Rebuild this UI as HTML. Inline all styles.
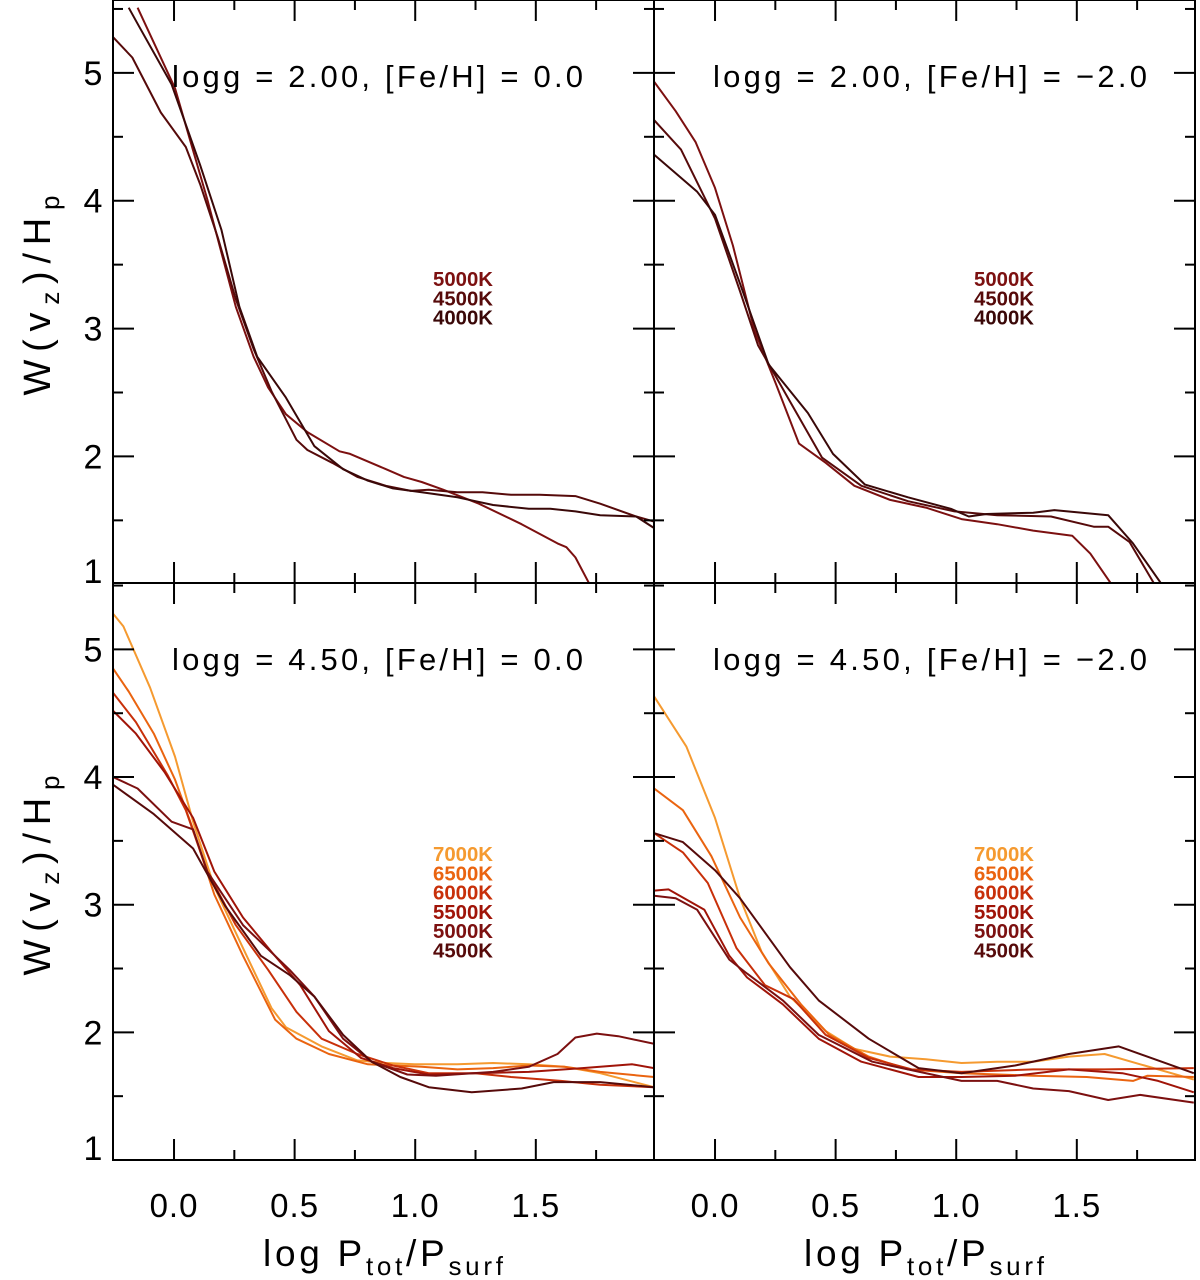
<!DOCTYPE html>
<html><head><meta charset="utf-8"><style>
html,body{margin:0;padding:0;background:#fff;}
svg{display:block;font-family:"Liberation Sans",sans-serif;}
</style></head><body>
<svg id="chart" width="1200" height="1280" viewBox="0 0 1200 1280" xmlns="http://www.w3.org/2000/svg"></svg>
<script>
const colors = {"4000K":"#3a0808","4500K":"#560a0a","5000K":"#7c1010","5500K":"#a01408","6000K":"#c8300a","6500K":"#ea6410","7000K":"#f59a30"};
const xTickValues = [0.0, 0.5, 1.0, 1.5];
const xTickLabels = ["0.0","0.5","1.0","1.5"];
const yTickValues = [1,2,3,4,5];
const yTickLabels = ["1","2","3","4","5"];
const panelTitles = ["logg = 2.00, [Fe/H] = 0.0","logg = 2.00, [Fe/H] = \u22122.0","logg = 4.50, [Fe/H] = 0.0","logg = 4.50, [Fe/H] = \u22122.0"];
const legendTop = ["5000K","4500K","4000K"];
const legendBottom = ["7000K","6500K","6000K","5500K","5000K","4500K"];

// panel 1: logg 2.00, [Fe/H]=0.0
const p1_5000_x = [-0.151,0.004,0.138,0.256,0.33,0.39,0.464,0.553,0.686,0.73,0.879,0.953,1.027,1.116,1.264,1.441,1.59,1.627,1.664,1.723];
const p1_5000_y = [5.51,4.88,4.01,3.17,2.78,2.54,2.33,2.19,2.04,2.02,1.90,1.84,1.80,1.74,1.63,1.47,1.32,1.29,1.21,1.0];
const p1_4500_x = [-0.253,-0.173,-0.055,0.049,0.108,0.182,0.256,0.33,0.404,0.508,0.553,0.656,0.76,0.879,0.982,1.056,1.175,1.279,1.397,1.516,1.664,1.767,1.916,1.99];
const p1_4500_y = [5.28,5.12,4.69,4.42,4.13,3.71,3.23,2.84,2.51,2.13,2.05,1.95,1.84,1.77,1.73,1.74,1.72,1.72,1.70,1.70,1.69,1.63,1.53,1.49];
const p1_4000_x = [-0.188,-0.144,-0.010,0.108,0.197,0.271,0.345,0.464,0.582,0.701,0.804,0.908,1.027,1.175,1.323,1.471,1.56,1.664,1.767,1.916,1.99];
const p1_4000_y = [5.51,5.36,4.91,4.28,3.77,3.17,2.78,2.46,2.08,1.90,1.81,1.75,1.72,1.68,1.62,1.59,1.59,1.57,1.54,1.53,1.44];

// panel 2: logg 2.00, [Fe/H]=-2.0
const p2_5000_x = [-0.252,-0.163,-0.081,0,0.074,0.163,0.252,0.348,0.459,0.578,0.726,0.874,1.022,1.17,1.319,1.481,1.556,1.644];
const p2_5000_y = [4.93,4.70,4.46,4.10,3.65,2.99,2.57,2.10,1.95,1.77,1.66,1.60,1.51,1.47,1.42,1.38,1.24,1.0];
const p2_4500_x = [-0.252,-0.141,0,0.104,0.178,0.311,0.444,0.607,0.8,0.993,1.17,1.393,1.57,1.63,1.719,1.822];
const p2_4500_y = [4.63,4.40,3.86,3.29,2.87,2.43,1.99,1.77,1.65,1.57,1.54,1.53,1.45,1.45,1.33,1.0];
const p2_4000_x = [-0.252,-0.074,0,0.104,0.222,0.385,0.489,0.622,0.8,0.978,1.052,1.126,1.319,1.407,1.63,1.733,1.852];
const p2_4000_y = [4.36,4.07,3.89,3.35,2.72,2.34,2.02,1.78,1.68,1.59,1.53,1.55,1.56,1.58,1.54,1.32,1.0];

// panel 3: logg 4.50, [Fe/H]=0.0
const p3_7000_x = [-0.253,-0.21,-0.099,0.004,0.079,0.167,0.286,0.404,0.464,0.612,0.76,0.879,0.997,1.175,1.323,1.471,1.619,1.767,1.99];
const p3_7000_y = [5.28,5.18,4.70,4.16,3.65,3.14,2.66,2.19,2.04,1.89,1.78,1.76,1.75,1.75,1.76,1.75,1.73,1.68,1.57];
const p3_6500_x = [-0.253,-0.188,-0.084,0.004,0.079,0.167,0.286,0.419,0.508,0.642,0.804,1.027,1.175,1.323,1.471,1.619,1.767,1.99];
const p3_6500_y = [4.85,4.67,4.34,3.98,3.59,3.08,2.60,2.10,1.95,1.83,1.75,1.73,1.71,1.72,1.74,1.73,1.69,1.65];
const p3_6000_x = [-0.253,-0.158,-0.025,0.049,0.138,0.256,0.39,0.508,0.612,0.76,0.908,1.056,1.249,1.397,1.604,1.767,1.99];
const p3_6000_y = [4.66,4.43,4.01,3.74,3.26,2.84,2.49,2.16,1.95,1.83,1.74,1.68,1.68,1.65,1.62,1.59,1.57];
const p3_5500_x = [-0.253,-0.158,-0.04,0.079,0.167,0.286,0.404,0.523,0.642,0.775,0.908,1.056,1.249,1.471,1.693,1.9,1.99];
const p3_5500_y = [4.52,4.34,4.04,3.68,3.26,2.90,2.63,2.37,2.01,1.80,1.72,1.67,1.68,1.69,1.72,1.75,1.72];
const p3_5000_x = [-0.253,-0.151,-0.01,0.079,0.138,0.286,0.479,0.582,0.701,0.819,0.967,1.086,1.323,1.471,1.59,1.664,1.753,1.842,1.99];
const p3_5000_y = [4.0,3.91,3.65,3.59,3.26,2.84,2.49,2.28,1.95,1.77,1.67,1.66,1.69,1.73,1.83,1.96,1.99,1.97,1.91];
const p3_4500_x = [-0.253,-0.084,0.079,0.212,0.36,0.479,0.582,0.701,0.819,0.938,1.056,1.234,1.441,1.574,1.767,1.99];
const p3_4500_y = [3.94,3.71,3.44,2.99,2.60,2.45,2.28,1.98,1.77,1.65,1.57,1.53,1.56,1.61,1.61,1.57];

// panel 4: logg 4.50, [Fe/H]=-2.0
const p4_7000_x = [-0.252,-0.119,0,0.104,0.193,0.311,0.459,0.578,0.726,0.874,1.022,1.17,1.319,1.467,1.615,1.763,1.985];
const p4_7000_y = [4.63,4.24,3.68,3.05,2.63,2.28,2.01,1.87,1.81,1.79,1.76,1.77,1.77,1.81,1.83,1.75,1.63];
const p4_6500_x = [-0.252,-0.133,-0.015,0.104,0.222,0.356,0.474,0.637,0.8,1.022,1.319,1.541,1.733,1.793,1.985];
const p4_6500_y = [3.91,3.74,3.38,2.90,2.54,2.22,1.98,1.81,1.71,1.68,1.66,1.65,1.62,1.66,1.65];
const p4_6000_x = [-0.252,-0.133,-0.03,0.089,0.207,0.326,0.459,0.637,0.815,1.022,1.319,1.615,1.985];
const p4_6000_y = [3.56,3.41,3.17,2.66,2.37,2.26,1.98,1.80,1.71,1.69,1.71,1.71,1.72];
const p4_5500_x = [-0.252,-0.193,-0.044,0.059,0.133,0.281,0.43,0.607,0.844,1.022,1.244,1.467,1.689,1.837,1.985];
const p4_5500_y = [3.11,3.12,2.96,2.60,2.43,2.22,1.95,1.77,1.65,1.65,1.66,1.71,1.68,1.62,1.53];
const p4_5000_x = [-0.252,-0.163,-0.074,0.059,0.133,0.281,0.43,0.652,1.022,1.17,1.319,1.467,1.63,1.763,1.985];
const p4_5000_y = [3.07,3.05,2.96,2.57,2.46,2.25,1.98,1.77,1.62,1.62,1.56,1.54,1.47,1.51,1.45];
const p4_4500_x = [-0.252,-0.133,0,0.104,0.311,0.43,0.637,0.844,1.022,1.244,1.467,1.674,1.837,1.985];
const p4_4500_y = [3.56,3.49,3.27,3.05,2.51,2.25,1.95,1.72,1.68,1.74,1.83,1.89,1.78,1.68];

const panels = [
  {name:"panel-logg2-feh0", x0:113, y0:0, y1:583, ymin:1.01, ymax:5.57, left:true, bottom:false, legend:legendTop, tlen:411,
   series:[["5000K",p1_5000_x,p1_5000_y],["4500K",p1_4500_x,p1_4500_y],["4000K",p1_4000_x,p1_4000_y]]},
  {name:"panel-logg2-fehm2", x0:654, y0:0, y1:583, ymin:1.01, ymax:5.57, left:false, bottom:false, legend:legendTop, tlen:434,
   series:[["5000K",p2_5000_x,p2_5000_y],["4500K",p2_4500_x,p2_4500_y],["4000K",p2_4000_x,p2_4000_y]]},
  {name:"panel-logg45-feh0", x0:113, y0:583, y1:1160, ymin:1.0, ymax:5.52, left:true, bottom:true, legend:legendBottom, tlen:411,
   series:[["7000K",p3_7000_x,p3_7000_y],["6500K",p3_6500_x,p3_6500_y],["6000K",p3_6000_x,p3_6000_y],["5500K",p3_5500_x,p3_5500_y],["5000K",p3_5000_x,p3_5000_y],["4500K",p3_4500_x,p3_4500_y]]},
  {name:"panel-logg45-fehm2", x0:654, y0:583, y1:1160, ymin:1.0, ymax:5.52, left:false, bottom:true, legend:legendBottom, tlen:434,
   series:[["7000K",p4_7000_x,p4_7000_y],["6500K",p4_6500_x,p4_6500_y],["6000K",p4_6000_x,p4_6000_y],["5500K",p4_5500_x,p4_5500_y],["5000K",p4_5000_x,p4_5000_y],["4500K",p4_4500_x,p4_4500_y]]}
];
const XMIN=-0.253, XMAX=1.99, PW=541;
const NS="http://www.w3.org/2000/svg";
const svg=document.getElementById('chart');
function mk(tag,attrs,parent){const e=document.createElementNS(NS,tag);for(const k in attrs)e.setAttribute(k,attrs[k]);(parent||svg).appendChild(e);return e;}
const defs=mk('defs',{});
panels.forEach((p,pi)=>{
  const sx=v=>p.x0+(v-XMIN)/(XMAX-XMIN)*PW;
  const sy=v=>p.y1-(v-p.ymin)/(p.ymax-p.ymin)*(p.y1-p.y0);
  const g=mk('g',{});
  
  
  const cp=mk('clipPath',{id:'clip'+pi},defs);
  mk('rect',{x:p.x0,y:p.y0,width:PW,height:p.y1-p.y0},cp);
  const sg=mk('g',{'clip-path':'url(#clip'+pi+')'},g);
  p.series.forEach(s=>{
    const pts=s[1].map((x,i)=>sx(x).toFixed(1)+','+sy(s[2][i]).toFixed(1)).join(' ');
    const pl=mk('polyline',{points:pts,fill:'none',stroke:colors[s[0]],'stroke-width':2,'stroke-linejoin':'round'},sg);
    
    
  });
  const fr=mk('rect',{x:p.x0,y:p.y0,width:PW,height:p.y1-p.y0,fill:'none',stroke:'#000','stroke-width':2},g);
  
  
  for(let v=-0.25; v<=2.0; v+=0.25){
    const X=sx(v); if(X<p.x0+1||X>p.x0+PW-1) continue;
    const major=Math.abs(v*2-Math.round(v*2))<1e-6;
    const L=major?21:10;
    mk('line',{x1:X,y1:p.y1,x2:X,y2:p.y1-L,stroke:'#000','stroke-width':2},g);
    mk('line',{x1:X,y1:p.y0,x2:X,y2:p.y0+L,stroke:'#000','stroke-width':2},g);
  }
  for(let v=1; v<=5.5; v+=0.5){
    const Y=sy(v); if(Y<p.y0+1||Y>p.y1-1) continue;
    const major=Math.abs(v-Math.round(v))<1e-6;
    const L=major?21:10;
    mk('line',{x1:p.x0,y1:Y,x2:p.x0+L,y2:Y,stroke:'#000','stroke-width':2},g);
    mk('line',{x1:p.x0+PW,y1:Y,x2:p.x0+PW-L,y2:Y,stroke:'#000','stroke-width':2},g);
  }
  if(p.left){
    yTickValues.forEach((v,i)=>{
      let Y=sy(v);
      if(Y>p.y1-12) Y=p.y1-12;
      const t=mk('text',{x:93,y:Y+12,'font-size':34,'text-anchor':'middle',fill:'#000'},g);
      t.textContent=yTickLabels[i];
      
      
    });
    const cy=(p.y0+p.y1)/2;
    const yt=mk('text',{x:0,y:0,'font-size':38,'text-anchor':'middle',fill:'#000',textLength:200,lengthAdjust:'spacing',transform:'translate(50,'+(cy+4)+') rotate(-90)'},g);
    yt.innerHTML='W(v<tspan font-size="26" dy="9">z</tspan><tspan dy="-9">)/H</tspan><tspan font-size="26" dy="9">p</tspan>';
    
    
  }
  if(p.bottom){
    xTickValues.forEach((v,i)=>{
      const t=mk('text',{x:sx(v),y:1217,'font-size':33,'text-anchor':'middle',fill:'#000','letter-spacing':'1'},g);
      t.textContent=xTickLabels[i];
      
      
    });
    const xt=mk('text',{x:p.x0+150,y:1266,'font-size':37,fill:'#000',textLength:240,lengthAdjust:'spacing'},g);
    xt.innerHTML='log  P<tspan font-size="26" dy="9">tot</tspan><tspan dy="-9">/P</tspan><tspan font-size="26" dy="9">surf</tspan>';
    
    
  }
  const tt=mk('text',{x:p.x0+59,y:p.y0+87,'font-size':31,fill:'#000',textLength:p.tlen,lengthAdjust:'spacing'},g);
  tt.textContent=panelTitles[pi];
  
  
  const ly0 = p.bottom ? p.y0+278 : p.y0+286;
  p.legend.forEach((lab,i)=>{
    const t=mk('text',{x:p.x0+320,y:ly0+i*19.3,'font-size':20,'font-weight':'bold',fill:colors[lab],textLength:60,lengthAdjust:'spacingAndGlyphs'},g);
    t.textContent=lab;
    
    
  });
});
</script>
</body></html>
